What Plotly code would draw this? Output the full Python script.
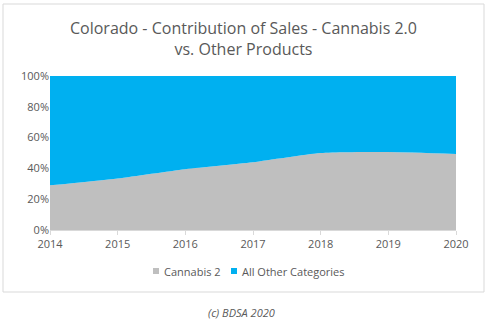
import plotly.graph_objects as go

years = [2014, 2015, 2016, 2017, 2018, 2019, 2020]
cannabis2 = [0.29, 0.335, 0.395, 0.44, 0.50, 0.507, 0.494]
all_other = [round(1 - v, 3) for v in cannabis2]
series_names = ["Cannabis 2", "All Other Categories"]
series_colors = ["#BFBFBF", "#00B0F0"]
title_text = "Colorado - Contribution of Sales - Cannabis 2.0<br>vs. Other Products"
caption = "(c) BDSA 2020"

FONT = "Open Sans"
TXT = "#595959"

fig = go.Figure()
fig.add_trace(go.Scatter(x=years, y=cannabis2, name=series_names[0], stackgroup="one",
                         mode="none", fillcolor=series_colors[0], line=dict(shape="spline", smoothing=0.6)))
fig.add_trace(go.Scatter(x=years, y=all_other, name=series_names[1], stackgroup="one",
                         mode="none", fillcolor=series_colors[1], line=dict(shape="spline", smoothing=0.6)))

W, H = 496, 322
L, R, T, B = 50, 40, 76, 92
ph = H - T - B
pw = W - L - R

def py(pix):
    return (H - B - pix) / ph

def px(pix):
    return (pix - L) / pw

annotations = [
    dict(text=title_text, x=px(243), y=py(38), xref="paper", yref="paper", showarrow=False,
         xanchor="center", yanchor="middle", font=dict(size=16, color=TXT, family=FONT)),
    dict(text="<i>" + caption + "</i>", x=px(241), y=py(312), xref="paper", yref="paper",
         showarrow=False, xanchor="center", yanchor="middle", font=dict(size=11, color=TXT, family=FONT)),
]
shapes = [dict(type="rect", xref="paper", yref="paper", x0=px(3), x1=px(484), y0=py(292), y1=py(4),
               line=dict(color="#d9d9d9", width=1), fillcolor="rgba(0,0,0,0)", layer="below")]

# manual legend (small squares like the reference)
leg_y = 271
leg_x = [153, 231]
for name, color, lx in zip(series_names, series_colors, leg_x):
    shapes.append(dict(type="rect", xref="paper", yref="paper", x0=px(lx), x1=px(lx + 6),
                       y0=py(leg_y + 3), y1=py(leg_y - 3), line=dict(width=0), fillcolor=color))
    annotations.append(dict(text=name, x=px(lx + 9), y=py(leg_y), xref="paper", yref="paper",
                            showarrow=False, xanchor="left", yanchor="middle",
                            font=dict(size=11, color=TXT, family=FONT)))

fig.update_layout(
    width=W, height=H,
    margin=dict(l=L, r=R, t=T, b=B, pad=0),
    paper_bgcolor="white", plot_bgcolor="white",
    font=dict(family=FONT, color=TXT, size=11),
    showlegend=False,
    xaxis=dict(range=[2014, 2020], tickvals=years, ticks="outside", ticklen=4, tickcolor="#d9d9d9",
               showgrid=False, zeroline=False, showline=True, linecolor="#d9d9d9",
               tickfont=dict(size=11, color=TXT), fixedrange=True),
    yaxis=dict(range=[0, 1], dtick=0.2, tickformat=".0%", showgrid=True, gridcolor="#d9d9d9",
               zeroline=False, showline=False, ticks="", tickfont=dict(size=11, color=TXT)),
    annotations=annotations,
    shapes=shapes,
)

fig.write_html("out.html")
